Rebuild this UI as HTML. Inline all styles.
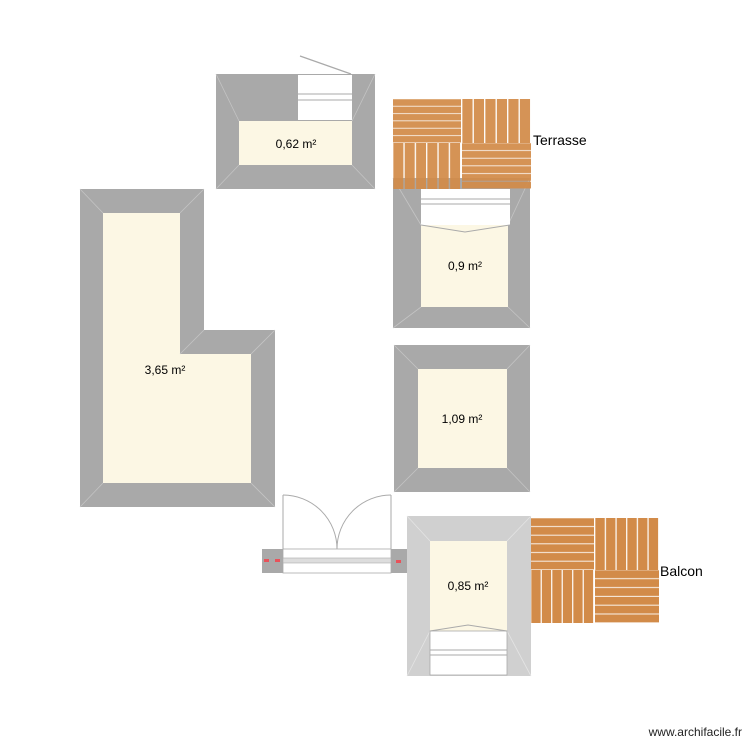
<!DOCTYPE html>
<html><head><meta charset="utf-8"><style>html,body{margin:0;padding:0;background:#fff}svg{display:block}</style></head>
<body>
<svg width="750" height="750" viewBox="0 0 750 750" xmlns="http://www.w3.org/2000/svg" font-family="Liberation Sans, sans-serif">
<defs>
<pattern id="hp" patternUnits="objectBoundingBox" patternContentUnits="objectBoundingBox" width="1" height="0.16667"><rect x="0" y="0.005" width="1" height="0.15" fill="#d28b49"/></pattern>
<pattern id="vp" patternUnits="objectBoundingBox" patternContentUnits="objectBoundingBox" width="0.16667" height="1"><rect x="0.005" y="0" width="0.148" height="1" fill="#d28b49"/></pattern>
</defs>
<rect width="750" height="750" fill="#fff"/>

<!-- Room 0.62 -->
<rect x="216" y="74" width="159" height="115" fill="#a9a9a9"/>
<rect x="239" y="121" width="113" height="44" fill="#fcf7e4"/>
<g stroke="#c4c4c4" stroke-width="0.8"><line x1="216" y1="74" x2="239" y2="121"/><line x1="375" y1="74" x2="352" y2="121"/><line x1="216" y1="189" x2="239" y2="165"/><line x1="375" y1="189" x2="352" y2="165"/></g>
<rect x="298" y="75" width="54" height="45" fill="#fff"/>
<line x1="298" y1="94" x2="352" y2="94" stroke="#aaa" stroke-width="1"/>
<line x1="298" y1="100" x2="352" y2="100" stroke="#aaa" stroke-width="1"/>
<line x1="300" y1="56" x2="351" y2="74" stroke="#aaa" stroke-width="1.2"/>
<text x="296" y="148" font-size="12" text-anchor="middle">0,62 m²</text>

<!-- Room 0.9 -->
<rect x="393" y="178" width="137" height="150" fill="#a9a9a9"/>
<rect x="421" y="225" width="87" height="82" fill="#fcf7e4"/>
<g stroke="#c4c4c4" stroke-width="0.8"><line x1="393" y1="328" x2="421" y2="307"/><line x1="530" y1="328" x2="508" y2="307"/><line x1="393" y1="178" x2="421" y2="225"/><line x1="530" y1="178" x2="508" y2="225"/></g>
<rect x="421" y="189" width="89" height="36" fill="#fff"/>
<line x1="421" y1="199" x2="510" y2="199" stroke="#aaa" stroke-width="1"/>
<line x1="421" y1="204" x2="510" y2="204" stroke="#aaa" stroke-width="1"/>
<polyline points="421,225 465,232 510,225" fill="none" stroke="#aaa" stroke-width="1"/>
<text x="465" y="270" font-size="12" text-anchor="middle">0,9 m²</text>

<!-- Terrasse deck -->
<g opacity="0.93">
<rect x="393" y="99" width="68" height="44" fill="url(#hp)"/>
<rect x="462" y="99" width="69" height="44" fill="url(#vp)"/>
<rect x="393" y="143" width="68" height="46" fill="url(#vp)"/>
<rect x="462" y="143" width="69" height="46" fill="url(#hp)"/>
</g>
<text x="533" y="145" font-size="14">Terrasse</text>

<!-- L room 3.65 -->
<polygon points="80,189 204,189 204,330 275,330 275,507 80,507" fill="#a9a9a9"/>
<polygon points="103,213 180,213 180,354 251,354 251,483 103,483" fill="#fcf7e4"/>
<g stroke="#c4c4c4" stroke-width="0.8"><line x1="80" y1="189" x2="103" y2="213"/><line x1="204" y1="189" x2="180" y2="213"/><line x1="204" y1="330" x2="180" y2="354"/><line x1="275" y1="330" x2="251" y2="354"/><line x1="275" y1="507" x2="251" y2="483"/><line x1="80" y1="507" x2="103" y2="483"/></g>
<text x="165" y="374" font-size="12" text-anchor="middle">3,65 m²</text>

<!-- Room 1.09 -->
<rect x="394" y="345" width="136" height="147" fill="#a9a9a9"/>
<rect x="418" y="369" width="89" height="99" fill="#fcf7e4"/>
<g stroke="#c4c4c4" stroke-width="0.8"><line x1="394" y1="345" x2="418" y2="369"/><line x1="530" y1="345" x2="507" y2="369"/><line x1="394" y1="492" x2="418" y2="468"/><line x1="530" y1="492" x2="507" y2="468"/></g>
<text x="462" y="423" font-size="12" text-anchor="middle">1,09 m²</text>

<!-- Door -->
<rect x="262" y="549" width="145" height="24" fill="#a9a9a9"/>
<rect x="283" y="549" width="108" height="24" fill="#fff" stroke="#aaa" stroke-width="0.8"/>
<rect x="283" y="558" width="108" height="5" fill="#ddd" stroke="#aaa" stroke-width="0.6"/>
<g stroke="#aaa" stroke-width="1" fill="none">
<line x1="283" y1="495" x2="283" y2="549"/><path d="M283,495 A54,54 0 0 1 337,549"/>
<line x1="391" y1="495" x2="391" y2="549"/><path d="M391,495 A54,54 0 0 0 337,549"/>
</g>
<g fill="#e8525a"><rect x="264" y="559" width="5" height="3"/><rect x="275" y="559" width="5" height="3"/><rect x="396" y="560" width="5" height="3"/></g>

<!-- Room 0.85 -->
<rect x="407" y="516" width="124" height="160" fill="#d0d0d0"/>
<rect x="430" y="541" width="77" height="90" fill="#fcf7e4"/>
<g stroke="#e4e4e4" stroke-width="0.8"><line x1="407" y1="516" x2="430" y2="541"/><line x1="531" y1="516" x2="507" y2="541"/><line x1="407" y1="676" x2="430" y2="631"/><line x1="531" y1="676" x2="507" y2="631"/></g>
<rect x="430" y="631" width="77" height="44" fill="#fff" stroke="#aaa" stroke-width="0.8"/>
<line x1="430" y1="650" x2="507" y2="650" stroke="#aaa" stroke-width="1"/>
<line x1="430" y1="655" x2="507" y2="655" stroke="#aaa" stroke-width="1"/>
<polyline points="430,631 468,625 507,631" fill="none" stroke="#aaa" stroke-width="1"/>
<text x="468" y="590" font-size="12" text-anchor="middle">0,85 m²</text>

<!-- Balcon deck -->
<rect x="531" y="518" width="63" height="52" fill="url(#hp)"/>
<rect x="595" y="518" width="64" height="52" fill="url(#vp)"/>
<rect x="531" y="570" width="63" height="53" fill="url(#vp)"/>
<rect x="595" y="570" width="64" height="53" fill="url(#hp)"/>
<text x="660" y="576" font-size="14">Balcon</text>

<text x="742" y="736" font-size="12" text-anchor="end" fill="#222">www.archifacile.fr</text>
</svg>
</body></html>
